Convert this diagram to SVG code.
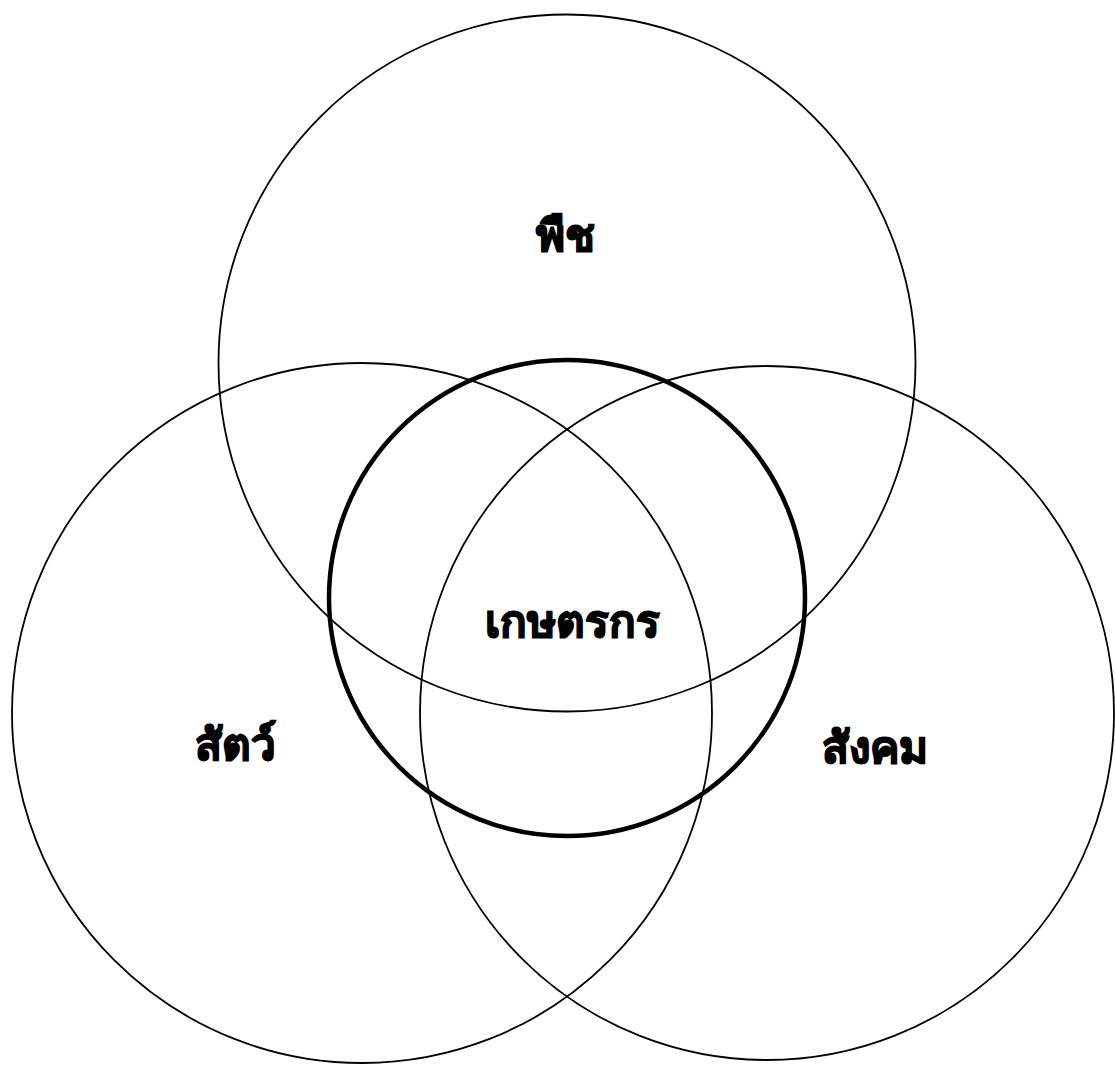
<svg xmlns="http://www.w3.org/2000/svg" width="1115" height="1065" viewBox="0 0 1115 1065">
<style>
.c{fill:none;stroke:#000;stroke-width:1.8}
.k{fill:none;stroke:#000;stroke-width:4.5}
.t{font-family:"Noto Sans","DejaVu Sans",sans-serif;font-weight:bold;font-size:44px;fill:#000;stroke:#000;stroke-width:1.5;text-anchor:middle}
</style>
<rect width="1115" height="1065" fill="#fff"/>
<g id="plants"><circle class="c" cx="567" cy="363" r="348.5"/><text class="t" x="565" y="251">พืช</text></g>
<g id="animals"><circle class="c" cx="362" cy="713" r="350"/><text class="t" x="235" y="760">สัตว์</text></g>
<g id="society"><circle class="c" cx="767" cy="713" r="347"/><text class="t" x="875" y="763">สังคม</text></g>
<g id="farmer"><circle class="k" cx="567" cy="598" r="238"/><text class="t" x="572" y="637">เกษตรกร</text></g>
<g id="connectors"></g>
</svg>
